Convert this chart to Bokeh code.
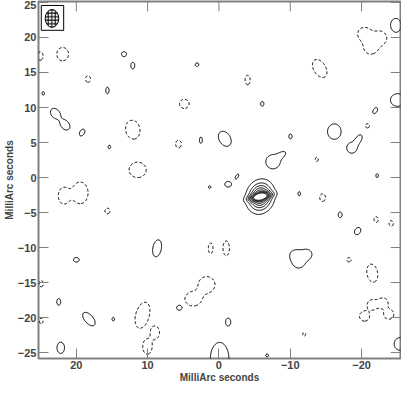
import numpy as np
from bokeh.plotting import figure
from bokeh.models import Range1d, FixedTicker
from bokeh.embed import file_html
from bokeh.resources import INLINE

# ---- axis ranges / ticks (milliarcseconds) ----
x_start, x_end = 25.3, -25.46
y_start, y_end = -25.85, 25.14
x_ticks = [20, 10, 0, -10, -20]
y_ticks = [-25, -20, -15, -10, -5, 0, 5, 10, 15, 20, 25]
axis_title = "MilliArc seconds"

# ---- contour levels ----
pos_levels = [1, 2.5, 4, 5.5, 7, 8.5, 10, 11.5]
neg_levels = [-1]

# ---- main source components (x, y, size along angle, size across, angle deg, amplitude) ----
main_x = [-5.80, -5.80]
main_y = [-2.73, -2.73]
main_da = [2.3, 2.85]
main_db = [0.75, 2.3]
main_ang = [12, 75]
main_amp = [9.0, 9.5]

# ---- positive features ----
pos_x = [13.31, 12.08, 15.63, 3.07, 22.94, 21.57, 19.18, 15.36, -0.82, 2.53,
         -10.03, -6.08, -7.58, -8.80, -2.53, -1.30, 1.30, -11.26, -17.00, -16.18,
         -18.63, -19.59, -21.91, -25.05, -22.18, 8.67, 20.00, 22.46, 18.23, 14.81,
         5.53, 22.18, -0.10, -1.30, -19.45, -10.70, -12.35, -11.20, -25.38, -24.80,
         24.64, -6.76]
pos_y = [17.62, 15.98, 12.43, 16.12, 9.15, 7.51, 6.42, 4.37, 5.53, 5.33,
         5.87, 10.52, 2.25, 3.25, 0.14, -0.96, -1.37, -2.32, -5.33, 6.56,
         4.23, 5.46, 9.56, 11.07, 0.27, -10.11, -11.75, -17.76, -20.22, -20.22,
         -18.58, -24.32, -25.90, -20.63, -7.65, -11.10, -10.98, -12.20, -23.77, 21.72,
         12.02, -25.41]
pos_da = [0.7, 0.95, 0.95, 0.5, 1.6, 1.6, 1.05, 0.5, 2.3, 0.9,
          0.7, 0.7, 2.0, 1.5, 0.8, 0.95, 0.35, 0.6, 0.8, 2.2,
          1.5, 1.6, 0.95, 2.0, 0.55, 2.45, 0.8, 0.95, 2.3, 0.5,
          0.85, 1.6, 4.7, 1.1, 1.1, 1.7, 1.65, 1.65, 1.8, 2.0,
          0.5, 0.4]
pos_db = [0.7, 0.55, 0.45, 0.5, 1.2, 1.15, 0.65, 0.35, 1.6, 0.4,
          0.45, 0.45, 2.0, 0.8, 0.35, 0.8, 0.35, 0.35, 0.55, 1.9,
          1.4, 0.9, 0.55, 1.8, 0.35, 1.2, 0.65, 0.55, 1.2, 0.35,
          0.75, 1.05, 2.6, 0.7, 0.8, 1.7, 1.65, 1.65, 1.6, 1.5,
          0.35, 0.4]
pos_ang = [0, 90, 90, 0, -50, -50, 60, 90, -60, 90,
           90, 90, 0, 35, 60, 0, 0, 90, 90, 90,
           90, 60, 60, 0, 90, 80, 0, 90, -50, 90,
           30, 90, 90, 90, 60, 0, 0, 0, 90, 90,
           90, 0]
pos_amp = ([2.0] * 13 + [1.5] + [2.0] * 7 + [1.7] + [2.0] * 13
           + [1.6, 1.6, 1.6] + [2.0] * 4)

# ---- negative features ----
neg_x = [21.91, 25.05, 18.36, 12.08, 4.85, 5.67, 11.40, 21.77, 19.45, 15.63,
         -4.03, -13.72, -14.54, -20.82, -22.05, -24.16, 1.16, -1.02, 1.71, 3.62,
         10.72, 8.94, 10.03, -18.23, -21.50, -20.41, -21.50, -23.00, -23.82, -11.95,
         24.91, 24.91, -20.41, -22.60, -21.30, -14.13]
neg_y = [17.62, 17.35, 14.07, 6.83, 10.52, 4.78, 1.09, -2.60, -2.19, -4.78,
         13.93, 2.60, -2.87, 7.38, -6.01, -6.56, -10.11, -10.11, -15.30, -17.35,
         -19.67, -22.13, -24.18, -11.75, -13.66, -19.81, -18.17, -17.90, -19.54, -22.40,
         -15.16, -20.49, 20.49, 19.95, 18.58, 15.57]
neg_da = [1.9, 1.2, 0.95, 2.7, 1.35, 1.1, 2.4, 2.3, 3.1, 0.8,
          1.35, 0.6, 1.1, 0.6, 0.8, 0.8, 1.5, 2.1, 2.3, 2.3,
          3.8, 1.8, 2.1, 0.6, 2.6, 1.4, 1.4, 1.4, 1.4, 0.5,
          0.9, 0.8, 1.9, 1.9, 1.9, 2.8]
neg_db = [1.65, 0.8, 0.7, 2.0, 1.3, 0.8, 2.2, 1.5, 2.2, 0.7,
          0.7, 0.4, 0.8, 0.6, 0.6, 0.6, 0.65, 0.9, 2.3, 2.0,
          1.9, 1.2, 1.3, 0.6, 1.5, 1.4, 1.4, 1.4, 1.4, 0.4,
          0.6, 0.5, 1.9, 1.9, 1.9, 1.7]
neg_ang = [90, 90, 90, 100, 0, 90, 0, 90, 90, 90,
           90, 90, 90, 0, 90, 90, 90, 90, 0, 0,
           75, 90, 90, 0, 100, 0, 0, 0, 0, 90,
           90, 90, 0, 0, 0, -60]
neg_amp = [-2.0] * 36

# ---- restoring beam (top-left corner box) ----
beam_x, beam_y = 23.41, 22.72
beam_minor, beam_major = 1.9, 2.55
box_x, box_y, box_w, box_h = 23.34, 22.80, 3.14, 3.55

# ---- build brightness map from the components ----
gx = np.linspace(-28, 28, 561)
gy = np.linspace(-28, 28, 561)
X, Y = np.meshgrid(gx, gy)
Z = np.zeros_like(X)


def add(xs, ys, das, dbs, angs, amps):
    global Z
    for x0, y0, da, db, ang, amp in zip(xs, ys, das, dbs, angs, amps):
        t = np.deg2rad(ang)
        # screen angle -> data axes (x axis reversed)
        u = (X - x0) * (-np.cos(t)) + (Y - y0) * np.sin(t)
        v = (X - x0) * np.sin(t) + (Y - y0) * np.cos(t)
        sa, sb = da / 2.355, db / 2.355
        Z = Z + amp * np.exp(-(u ** 2 / (2 * sa ** 2) + v ** 2 / (2 * sb ** 2)))


add(main_x, main_y, main_da, main_db, main_ang, main_amp)
add(pos_x, pos_y, pos_da, pos_db, pos_ang, pos_amp)
add(neg_x, neg_y, neg_da, neg_db, neg_ang, neg_amp)

FONT = "Liberation Sans"
GRAY = "#808080"

p = figure(width=401, height=385, output_backend="svg", toolbar_location=None,
           x_range=Range1d(x_start, x_end), y_range=Range1d(y_start, y_end),
           min_border_left=0, min_border_right=1, min_border_top=1, min_border_bottom=0,
           x_axis_label=axis_title, y_axis_label=axis_title)
p.grid.visible = False
p.outline_line_color = GRAY
p.outline_line_width = 2
p.background_fill_color = "white"

p.contour(gx, gy, Z, levels=neg_levels, line_color="black", line_width=1, line_dash="3 2")
p.contour(gx, gy, Z, levels=pos_levels, line_color="black", line_width=1)

p.rect(x=[box_x], y=[box_y], width=box_w, height=box_h, fill_color="white", line_color="black", line_width=1)
p.ellipse(x=[beam_x], y=[beam_y], width=beam_minor, height=beam_major, fill_color="white",
          line_color="black", line_width=1, hatch_pattern="+", hatch_scale=3.5, hatch_weight=1,
          hatch_color="black")

for ax in (p.xaxis[0], p.yaxis[0]):
    ax.axis_line_color = None
    ax.major_tick_in = 10
    ax.major_tick_out = 0
    ax.major_tick_line_color = GRAY
    ax.minor_tick_line_color = None
    ax.major_label_text_font = FONT
    ax.major_label_text_font_style = "bold"
    ax.major_label_text_font_size = "11px"
    ax.major_label_standoff = 2
    ax.axis_label_text_font = FONT
    ax.axis_label_text_font_style = "bold"
    ax.axis_label_text_font_size = "10px"
    ax.axis_label_standoff = 0
p.xaxis[0].ticker = FixedTicker(ticks=x_ticks)
p.yaxis[0].ticker = FixedTicker(ticks=y_ticks)

# inward ticks on top and right edges (10 px long)
tick_dy = 10 / 7.12
tick_dx = 10 / 7.29
p.segment(x0=x_ticks, y0=[y_end] * len(x_ticks), x1=x_ticks, y1=[y_end - tick_dy] * len(x_ticks),
          line_color=GRAY, line_width=1)
p.segment(x0=[x_end] * len(y_ticks), y0=y_ticks, x1=[x_end + tick_dx] * len(y_ticks), y1=y_ticks,
          line_color=GRAY, line_width=1)

open("out.html", "w").write(file_html(p, INLINE))
